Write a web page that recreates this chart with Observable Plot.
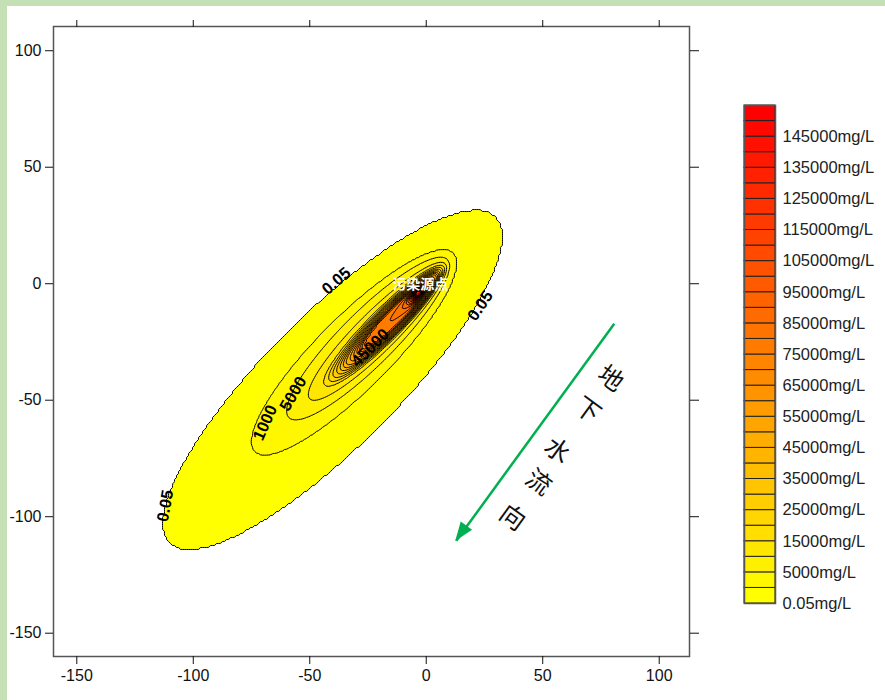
<!DOCTYPE html>
<html><head><meta charset="utf-8">
<script src="https://cdn.jsdelivr.net/npm/d3@7"></script>
<script src="https://cdn.jsdelivr.net/npm/@observablehq/plot@0.6"></script>
<style>
body{margin:0;background:#fff;width:885px;height:700px;overflow:hidden;position:relative;font-family:"Liberation Sans",Arial,sans-serif;}
#chart{position:absolute;left:0;top:0;}
#legend{position:absolute;left:735px;top:95px;}
.g-top{position:absolute;left:0;top:0;width:885px;height:6px;background:#c5e0b4;}
.g-left{position:absolute;left:0;top:0;width:7px;height:700px;background:#c5e0b4;}
</style></head><body>
<div id="chart"></div><div id="legend"></div><div class="g-top"></div><div class="g-left"></div>
<script>
// contour levels (mg/L) – band boundaries
const levels = [0.05, 1000, 5000, 10000, 15000, 20000, 25000, 30000, 35000, 40000, 45000, 50000,
  55000, 60000, 65000, 70000, 75000, 80000, 85000, 90000, 95000, 100000, 105000, 110000, 115000,
  120000, 125000, 130000, 135000, 140000, 145000, 150000];
const legendValues = [0.05, 5000, 15000, 25000, 35000, 45000, 55000, 65000, 75000, 85000, 95000,
  105000, 115000, 125000, 135000, 145000];
const legendLabels = ["0.05mg/L", "5000mg/L", "15000mg/L", "25000mg/L", "35000mg/L", "45000mg/L",
  "55000mg/L", "65000mg/L", "75000mg/L", "85000mg/L", "95000mg/L", "105000mg/L", "115000mg/L",
  "125000mg/L", "135000mg/L", "145000mg/L"];
const xTicks = [-150, -100, -50, 0, 50, 100];
const yTicks = [-150, -100, -50, 0, 50, 100];

// isolines: level, centre, half-length, half-width (axis at 45°)
const isoLevel = [0.05, 1000, 5000, 15000, 45000, 75000, 95000, 152000];
const isoCx = [-40.2, -31, -25, -18, -15, -13, -4.5, -3.6];
const isoCy = [-41.3, -29.5, -23.5, -18, -15.5, -13.5, -5.0, -4.0];
const isoA = [98.5, 60, 48, 36, 27, 19, 4.5, 1.5];
const isoB = [28, 15.5, 11.5, 6.8, 4.8, 3.2, 2.0, 1.0];
const isoAngle = 45;

// contour labels
const labelText = ["0.05", "0.05", "0.05", "1000", "5000", "45000"];
const labelX = [-38.6, 23.2, -112, -69.1, -57.1, -24.0];
const labelY = [1.2, -9.5, -95.3, -59.7, -47.2, -27.5];
const labelAngle = [-41, -56, -80, -66, -60, -45];

// source point label
const sourceText = ["污染源点"];
const sourceX = [-2.6];
const sourceY = [-0.5];

// groundwater flow arrow + text
const flowX1 = [80.7], flowY1 = [-17.2], flowX2 = [12.9], flowY2 = [-110.3];
const flowText = ["地", "下", "水", "流", "向"];
const flowCharX = [79.0, 69.1, 56.2, 48.1, 36.9];
const flowCharY = [-40.8, -54.5, -71.7, -85.4, -100.5];

const colors = levels.map((_, i) => d3.interpolateRgb("#ffff00", "#ff0000")(i / (levels.length - 1)));
const colorScale = {type: "threshold", domain: levels.slice(1), range: colors};

const th = isoAngle * Math.PI / 180, ct = Math.cos(th), st = Math.sin(th);
function rr(k, x, y) {
  const dx = x - isoCx[k], dy = y - isoCy[k];
  const u = (dx * ct + dy * st) / isoA[k], w = (-dx * st + dy * ct) / isoB[k];
  return Math.sqrt(u * u + w * w);
}
function conc(x, y) {
  const n = isoLevel.length;
  let rk = rr(0, x, y);
  if (rk > 1) return 0;
  for (let k = 0; k < n - 1; k++) {
    const rn = rr(k + 1, x, y);
    if (rn > 1) {
      const t = (1 - rk) / (rn - rk);
      return isoLevel[k] + t * (isoLevel[k + 1] - isoLevel[k]);
    }
    rk = rn;
  }
  return isoLevel[n - 1];
}

const labels = labelText.map((t, i) => ({t, x: labelX[i], y: labelY[i], a: labelAngle[i]}));
const flowChars = flowText.map((t, i) => ({t, x: flowCharX[i], y: flowCharY[i]}));
const flow = flowX1.map((d, i) => ({x1: flowX1[i], y1: flowY1[i], x2: flowX2[i], y2: flowY2[i]}));
const source = sourceText.map((t, i) => ({t, x: sourceX[i], y: sourceY[i]}));
const fmt = d => String(d);

const chart = Plot.plot({
  width: 885, height: 700,
  marginLeft: 53, marginTop: 26, marginRight: 196, marginBottom: 44,
  x: {domain: [-160, 113]},
  y: {domain: [-160, 110.4]},
  color: colorScale,
  style: {background: "transparent", fontFamily: "'Liberation Sans', Arial, sans-serif", fontSize: "16px", color: "#111"},
  marks: [
    Plot.contour({value: conc, x1: -160, x2: 113, y1: -160, y2: 110.4, thresholds: levels,
      fill: "value", stroke: "black", strokeWidth: 1}),
    Plot.text(labels, {x: "x", y: "y", text: "t", rotate: "a", fontWeight: "bold", fontSize: 16.5, fill: "black"}),
    Plot.text(source, {x: "x", y: "y", text: "t", fill: "white", fontWeight: "bold", fontSize: 14,
      fontFamily: "'Noto Sans CJK SC', sans-serif"}),
    Plot.link(flow, {x1: "x1", y1: "y1", x2: "x2", y2: "y2", stroke: "#00b050", strokeWidth: 2.5}),
    Plot.text(flowChars, {x: "x", y: "y", text: "t", rotate: 36, fontSize: 25, fill: "#111",
      fontFamily: "'Noto Sans CJK SC', sans-serif"}),
    Plot.frame({stroke: "#555", strokeWidth: 1.5}),
    Plot.axisX(xTicks, {anchor: "bottom", tickSize: 8, tickPadding: 5, label: null, fontSize: 16, stroke: "#111", tickFormat: fmt}),
    Plot.axisX(xTicks, {anchor: "top", tickSize: 7, tickFormat: () => "", label: null, stroke: "#111"}),
    Plot.axisY(yTicks, {anchor: "left", tickSize: 8, tickPadding: 4, label: null, fontSize: 16, stroke: "#111", tickFormat: fmt}),
    Plot.axisY(yTicks, {anchor: "right", tickSize: 9, tickFormat: () => "", label: null, stroke: "#111"})
  ]
});
document.getElementById("chart").appendChild(chart);

// filled arrowhead at the end of the flow arrow, placed via the plot's scales
{
  const sx = chart.scale("x"), sy = chart.scale("y");
  flow.forEach(f => {
    const X1 = sx.apply(f.x1), Y1 = sy.apply(f.y1), X2 = sx.apply(f.x2), Y2 = sy.apply(f.y2);
    const L = Math.hypot(X2 - X1, Y2 - Y1), ux = (X2 - X1) / L, uy = (Y2 - Y1) / L;
    const hl = 18, hw = 7;
    const bx = X2 - ux * hl, by = Y2 - uy * hl;
    const pts = [[X2 + ux * 1, Y2 + uy * 1], [bx - uy * hw, by + ux * hw], [bx + uy * hw, by - ux * hw]];
    d3.select(chart).append("polygon").attr("points", pts.map(p => p.join(",")).join(" ")).attr("fill", "#00b050");
  });
}

// legend
const bands = levels.map((v, i) => ({v, i}));
const legendItems = legendValues.map((v, i) => ({v, label: legendLabels[i]}));
const legend = Plot.plot({
  width: 150, height: 520,
  marginLeft: 9, marginRight: 110, marginTop: 10, marginBottom: 12,
  x: {domain: [0, 1], axis: null},
  y: {domain: [0, levels.length], range: [508, 10], axis: null},
  color: colorScale,
  style: {background: "transparent", fontFamily: "'Liberation Sans', Arial, sans-serif"},
  marks: [
    Plot.rect(bands, {x1: 0, x2: 1, y1: "i", y2: d => d.i + 1, fill: "v", stroke: "#222", strokeWidth: 1}),
    Plot.frame({stroke: "#555", strokeWidth: 1.5}),
    Plot.text(legendItems, {x: 1, y: d => levels.indexOf(d.v), text: "label", dx: 7, textAnchor: "start",
      fontSize: 16.5, fill: "#222"})
  ]
});
document.getElementById("legend").appendChild(legend);
</script>
</body></html>
